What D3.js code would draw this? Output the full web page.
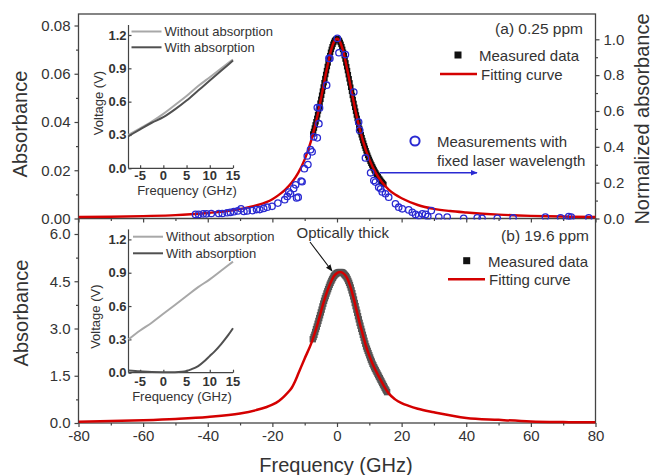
<!DOCTYPE html>
<html>
<head>
<meta charset="utf-8">
<script src="https://cdn.jsdelivr.net/npm/d3@7/dist/d3.min.js"></script>
<style>
  html, body { margin: 0; padding: 0; background: #fff; }
  svg { display: block; font-family: "Liberation Sans", Arial, Helvetica, sans-serif; }
</style>
</head>
<body>
<svg id="chart" width="654" height="475"></svg>
<script>
// ---------- data ----------
// Frequency ticks (GHz) for the shared x axis
const xTicks = [-80, -60, -40, -20, 0, 20, 40, 60, 80];
const xMinor = [-70, -50, -30, -10, 10, 30, 50, 70];
// Left axis ticks, panel (a) and panel (b); right axis ticks (normalized)
const topTicks = [0, 0.02, 0.04, 0.06, 0.08];
const topMinor = [0.01, 0.03, 0.05, 0.07];
const normTicks = [0, 0.2, 0.4, 0.6, 0.8, 1.0];
const normMinor = [0.1, 0.3, 0.5, 0.7, 0.9];
const botTicks = [0, 1.5, 3.0, 4.5, 6.0];
const botMinor = [0.75, 2.25, 3.75, 5.25];
// Inset ticks
const insetVTicks = [0, 0.3, 0.6, 0.9, 1.2];
const insetFTicks = [-5, 0, 5, 10, 15];

// Panel (a) 0.25 ppm: fitting curve
const fitTopFreq = [-80, -70, -60, -50, -40, -35, -30, -25, -20, -18, -16, -14, -12, -10, -8, -6, -4, -3, -2, -1, 0, 1, 2, 3, 4, 6, 8, 10, 12, 14, 16, 18, 20, 25, 30, 35, 40, 50, 60, 70, 80];
const fitTopAbs = [0.0006, 0.0007, 0.0010, 0.0014, 0.0023, 0.0029, 0.0039, 0.0054, 0.0080, 0.0098, 0.0120, 0.0149, 0.0189, 0.0245, 0.0323, 0.0429, 0.0562, 0.0629, 0.0689, 0.0730, 0.0745, 0.0730, 0.0689, 0.0629, 0.0562, 0.0429, 0.0323, 0.0245, 0.0189, 0.0149, 0.0120, 0.0099, 0.0084, 0.0056, 0.0040, 0.0031, 0.0025, 0.0016, 0.0011, 0.0008, 0.0006];
// Panel (a): measured data
const measTopFreq = [-7.5, -7.25, -7, -6.75, -6.5, -6.25, -6, -5.75, -5.5, -5.25, -5, -4.75, -4.5, -4.25, -4, -3.75, -3.5, -3.25, -3, -2.75, -2.5, -2.25, -2, -1.75, -1.5, -1.25, -1, -0.75, -0.5, -0.25,
  0, 0.25, 0.5, 0.75, 1, 1.25, 1.5, 1.75, 2, 2.25, 2.5, 2.75, 3, 3.25, 3.5, 3.75, 4, 4.25, 4.5, 4.75, 5, 5.25, 5.5, 5.75, 6, 6.25, 6.5, 6.75, 7, 7.25, 7.5, 7.75,
  8, 8.25, 8.5, 8.75, 9, 9.25, 9.5, 9.75, 10, 10.25, 10.5, 10.75, 11, 11.25, 11.5, 11.75, 12, 12.25, 12.5, 12.75, 13, 13.25, 13.5, 13.75, 14, 14.25, 14.5];
const measTopAbs = [0.0350, 0.0361, 0.0375, 0.0388, 0.0401, 0.0415, 0.0430, 0.0446, 0.0462, 0.0478, 0.0494, 0.0511, 0.0528, 0.0545, 0.0563, 0.0580, 0.0597, 0.0613, 0.0630, 0.0645, 0.0661, 0.0675, 0.0689, 0.0701, 0.0712, 0.0722, 0.0730, 0.0737, 0.0741, 0.0744,
  0.0745, 0.0744, 0.0741, 0.0737, 0.0730, 0.0722, 0.0712, 0.0701, 0.0689, 0.0675, 0.0661, 0.0645, 0.0629, 0.0613, 0.0596, 0.0579, 0.0562, 0.0544, 0.0527, 0.0510, 0.0493, 0.0477, 0.0461, 0.0445, 0.0429, 0.0415, 0.0400, 0.0386, 0.0373, 0.0359, 0.0347, 0.0335,
  0.0323, 0.0312, 0.0301, 0.0291, 0.0281, 0.0271, 0.0262, 0.0253, 0.0245, 0.0237, 0.0229, 0.0222, 0.0215, 0.0208, 0.0201, 0.0195, 0.0189, 0.0183, 0.0178, 0.0173, 0.0167, 0.0163, 0.0158, 0.0153, 0.0149, 0.0145, 0.0141];
// Panel (a): measurements with fixed laser wavelength (normalized absorbance)
const fixedFreq = [-43.8, -42.8, -41.4, -40.4, -38.9, -36.6, -35.5, -34.0, -33.0, -31.9, -30.7, -29.7, -28.8, -27.8, -26.2, -24.9, -23.9, -22.7, -21.6, -20.1, -18.3, -16.2, -15.4, -14.9, -14.4, -13.4, -12.8, -12.5, -12.0, -11.1, -10.8, -10.1, -9.2, -9.0, -8.2, -7.7, -7.2, -6.1, -6.1, -5.6, -5.4, -3.2, -2.5, -2.2, 0.1, 0.6, 2.6, 5.2, 6.7, 7.0, 8.8, 10.4, 11.4, 11.9, 12.9, 13.5, 14.0, 15.0, 16.0, 18.1, 19.1, 20.2, 22.2, 23.3, 24.3, 25.3, 26.4, 27.4, 28.1, 29.2, 31.5, 34.1, 39.2, 43.4, 44.9, 49.6, 54.5, 64.5, 69.2, 71.7, 72.5, 77.9];
const fixedNorm = [0.023, 0.023, 0.026, 0.026, 0.028, 0.028, 0.028, 0.032, 0.034, 0.038, 0.042, 0.054, 0.039, 0.042, 0.044, 0.050, 0.050, 0.056, 0.063, 0.068, 0.086, 0.105, 0.123, 0.148, 0.138, 0.168, 0.188, 0.115, 0.119, 0.209, 0.205, 0.278, 0.349, 0.301, 0.384, 0.372, 0.456, 0.450, 0.619, 0.529, 0.617, 0.744, 0.893, 0.893, 1.005, 0.925, 0.915, 0.706, 0.538, 0.493, 0.338, 0.255, 0.212, 0.203, 0.174, 0.166, 0.148, 0.138, 0.119, 0.082, 0.063, 0.054, 0.048, 0.035, 0.023, 0.016, 0.026, 0.023, 0.011, 0.044, 0.008, 0.008, 0.001, 0.004, 0.001, 0.001, 0.003, 0.008, 0.004, 0.011, 0.008, 0.004];

// Panel (b) 19.6 ppm: fitting curve
const fitBotFreq = [-80, -70, -60, -50, -40, -30, -25, -22, -20, -18, -16.5, -15, -14, -13, -12, -10, -8, -6, -4, -2, -1, 0, 1, 2, 3, 4, 5, 6, 7, 8, 9, 11, 13.5, 14.5, 16, 18, 20, 22, 25, 30, 40, 50, 60, 70, 80];
const fitBotAbs = [0.04, 0.06, 0.09, 0.13, 0.19, 0.30, 0.41, 0.50, 0.58, 0.70, 0.83, 0.99, 1.12, 1.32, 1.56, 2.05, 2.52, 3.15, 3.88, 4.45, 4.66, 4.76, 4.79, 4.75, 4.62, 4.38, 4.02, 3.60, 3.18, 2.80, 2.43, 1.88, 1.37, 1.18, 0.94, 0.75, 0.63, 0.55, 0.45, 0.34, 0.16, 0.10, 0.05, 0.03, 0.02];
// Panel (b): measured data
const measBotFreq = [-7.5, -7.25, -7, -6.75, -6.5, -6.25, -6, -5.75, -5.5, -5.25, -5, -4.75, -4.5, -4.25, -4, -3.75, -3.5, -3.25, -3, -2.75, -2.5, -2.25, -2, -1.75, -1.5, -1.25, -1, -0.75, -0.5, -0.25,
  0, 0.25, 0.5, 0.75, 1, 1.25, 1.5, 1.75, 2, 2.25, 2.5, 2.75, 3, 3.25, 3.5, 3.75, 4, 4.25, 4.5, 4.75, 5, 5.25, 5.5, 5.75, 6, 6.25, 6.5, 6.75, 7, 7.25, 7.5, 7.75,
  8, 8.25, 8.5, 8.75, 9, 9.25, 9.5, 9.75, 10, 10.25, 10.5, 10.75, 11, 11.25, 11.5, 11.75, 12, 12.25, 12.5, 12.75, 13, 13.25, 13.5, 13.75, 14, 14.25, 14.5, 14.75, 15, 15.25, 15.5];
const measBotAbs = [2.66, 2.73, 2.80, 2.89, 2.98, 3.06, 3.15, 3.24, 3.33, 3.42, 3.51, 3.60, 3.70, 3.79, 3.88, 3.96, 4.03, 4.11, 4.18, 4.25, 4.32, 4.39, 4.45, 4.51, 4.56, 4.61, 4.66, 4.69, 4.72, 4.74,
  4.76, 4.77, 4.78, 4.79, 4.79, 4.79, 4.78, 4.77, 4.75, 4.72, 4.69, 4.66, 4.62, 4.57, 4.51, 4.45, 4.38, 4.30, 4.21, 4.12, 4.02, 3.92, 3.81, 3.71, 3.60, 3.50, 3.39, 3.29, 3.18, 3.09, 2.99, 2.90,
  2.80, 2.71, 2.61, 2.52, 2.43, 2.36, 2.29, 2.22, 2.15, 2.08, 2.01, 1.95, 1.88, 1.83, 1.77, 1.72, 1.67, 1.62, 1.57, 1.52, 1.47, 1.42, 1.37, 1.32, 1.27, 1.22, 1.17, 1.12, 1.07, 1.03, 0.98];

// Insets: detector voltage vs frequency
const insetFreq = [-7.5, -5, -2.5, 0, 2.5, 5, 7.5, 10, 12.5, 15];
const insetTopWithout = [0.30, 0.36, 0.42, 0.49, 0.57, 0.65, 0.74, 0.82, 0.90, 0.98];
const insetTopWith = [0.29, 0.35, 0.41, 0.46, 0.53, 0.61, 0.70, 0.79, 0.88, 0.97];
const insetBotWithout = [0.30, 0.38, 0.45, 0.53, 0.61, 0.69, 0.77, 0.84, 0.92, 1.00];
const insetBotWithFreq = [-7.5, -5, -2.5, 0, 2.5, 4, 5, 6, 7.5, 9, 10, 11, 12.5, 14, 15];
const insetBotWith = [0.02, 0.012, 0.006, 0.005, 0.005, 0.008, 0.015, 0.03, 0.06, 0.11, 0.15, 0.19, 0.26, 0.34, 0.40];

// ---------- layout ----------
const svg = d3.select("#chart");
const L = 78.5, R = 595.5, T = 14, MID = 218.5, B = 423;
const textCol = "#333";
const frameCol = "#444";

const x = d3.scaleLinear().domain([-80, 80]).range([L, R]);
const yTop = d3.scaleLinear().domain([0, 0.08]).range([MID, 25.5]);
const yNorm = d3.scaleLinear().domain([0, 1]).range([MID, 39.3]);
const yBot = d3.scaleLinear().domain([0, 6]).range([B, 234]);

const fmt = (p) => (d) => d.toFixed(p);

function styleAxis(g, size) {
  g.select(".domain").remove();
  g.selectAll(".tick line").attr("stroke", frameCol).attr("stroke-width", 1.2);
  g.selectAll(".tick text").attr("font-size", size).attr("fill", textCol);
}

// Left axis, panel (a)
svg.append("g").attr("transform", `translate(${L},0)`)
  .call(d3.axisLeft(yTop).tickValues(topTicks).tickFormat(fmt(2)).tickSize(4).tickPadding(4))
  .call(g => styleAxis(g, "15px"));
svg.append("g").attr("transform", `translate(${L},0)`)
  .call(d3.axisLeft(yTop).tickValues(topMinor).tickFormat("").tickSize(2.5))
  .call(g => styleAxis(g, "15px"));
// Right axis, panel (a): normalized absorbance
svg.append("g").attr("transform", `translate(${R},0)`)
  .call(d3.axisRight(yNorm).tickValues(normTicks).tickFormat(fmt(1)).tickSize(4).tickPadding(4))
  .call(g => styleAxis(g, "15px"));
svg.append("g").attr("transform", `translate(${R},0)`)
  .call(d3.axisRight(yNorm).tickValues(normMinor).tickFormat("").tickSize(2.5))
  .call(g => styleAxis(g, "15px"));
// Left axis, panel (b)
svg.append("g").attr("transform", `translate(${L},0)`)
  .call(d3.axisLeft(yBot).tickValues(botTicks).tickFormat(fmt(1)).tickSize(4).tickPadding(4))
  .call(g => styleAxis(g, "15px"));
svg.append("g").attr("transform", `translate(${L},0)`)
  .call(d3.axisLeft(yBot).tickValues(botMinor).tickFormat("").tickSize(2.5))
  .call(g => styleAxis(g, "15px"));
// x ticks under panel (a), no labels
svg.append("g").attr("transform", `translate(0,${MID})`)
  .call(d3.axisBottom(x).tickValues(xTicks).tickFormat("").tickSize(4))
  .call(g => styleAxis(g, "15px"));
svg.append("g").attr("transform", `translate(0,${MID})`)
  .call(d3.axisBottom(x).tickValues(xMinor).tickFormat("").tickSize(2.5))
  .call(g => styleAxis(g, "15px"));
// x axis under panel (b)
svg.append("g").attr("transform", `translate(0,${B})`)
  .call(d3.axisBottom(x).tickValues(xTicks).tickFormat(d => String(d)).tickSize(4).tickPadding(3))
  .call(g => styleAxis(g, "15px"));
svg.append("g").attr("transform", `translate(0,${B})`)
  .call(d3.axisBottom(x).tickValues(xMinor).tickFormat("").tickSize(2.5))
  .call(g => styleAxis(g, "15px"));

// Frame and panel divider
svg.append("rect").attr("x", L).attr("y", T).attr("width", R - L).attr("height", B - T)
  .attr("fill", "none").attr("stroke", frameCol).attr("stroke-width", 1.3);
svg.append("line").attr("x1", L).attr("x2", R).attr("y1", MID).attr("y2", MID)
  .attr("stroke", frameCol).attr("stroke-width", 1.3);

// Axis titles
svg.append("text").attr("transform", "translate(27,124) rotate(-90)")
  .attr("text-anchor", "middle").attr("font-size", "20px").attr("fill", textCol).text("Absorbance");
svg.append("text").attr("transform", "translate(28,313) rotate(-90)")
  .attr("text-anchor", "middle").attr("font-size", "20px").attr("fill", textCol).text("Absorbance");
svg.append("text").attr("x", 336).attr("y", 472)
  .attr("text-anchor", "middle").attr("font-size", "20px").attr("fill", textCol).text("Frequency (GHz)");
svg.append("text").attr("transform", "translate(649,119) rotate(-90)")
  .attr("text-anchor", "middle").attr("font-size", "20px").attr("fill", textCol).text("Normalized absorbance");

// ---------- marks ----------
const red = "#d40000";
const blue = "#2a2ad2";
const sq = 5.5;

svg.append("clipPath").attr("id", "clipTop")
  .append("rect").attr("x", L).attr("y", T).attr("width", R - L).attr("height", MID - T + 1);
svg.append("clipPath").attr("id", "clipBot")
  .append("rect").attr("x", L).attr("y", MID).attr("width", R - L).attr("height", B - MID + 1);

// Panel (a)
const gA = svg.append("g").attr("clip-path", "url(#clipTop)");
gA.selectAll("rect.meas").data(measTopFreq).join("rect").attr("class", "meas")
  .attr("x", (d) => x(d) - sq / 2).attr("y", (d, i) => yTop(measTopAbs[i]) - sq / 2)
  .attr("width", sq).attr("height", sq).attr("fill", "#111");
gA.append("path")
  .datum(fitTopFreq.map((f, i) => [f, fitTopAbs[i]]))
  .attr("d", d3.line().x(d => x(d[0])).y(d => yTop(d[1])).curve(d3.curveMonotoneX))
  .attr("fill", "none").attr("stroke", red).attr("stroke-width", 2.4);
gA.selectAll("circle.fixed").data(fixedFreq).join("circle").attr("class", "fixed")
  .attr("cx", (d) => x(d)).attr("cy", (d, i) => yNorm(fixedNorm[i])).attr("r", 3.2)
  .attr("fill", "none").attr("stroke", blue).attr("stroke-width", 1.3);

// Panel (b)
const gB = svg.append("g").attr("clip-path", "url(#clipBot)");
gB.selectAll("rect.meas").data(measBotFreq).join("rect").attr("class", "meas")
  .attr("x", (d) => x(d) - 3.2).attr("y", (d, i) => yBot(measBotAbs[i]) - 3.2)
  .attr("width", 6.4).attr("height", 6.4).attr("fill", "#555");
gB.append("path")
  .datum(fitBotFreq.map((f, i) => [f, fitBotAbs[i]]))
  .attr("d", d3.line().x(d => x(d[0])).y(d => yBot(d[1])).curve(d3.curveMonotoneX))
  .attr("fill", "none").attr("stroke", red).attr("stroke-width", 2.5);

// Arrow heads
const defs = svg.append("defs");
function marker(id, color) {
  defs.append("marker").attr("id", id).attr("viewBox", "0 0 10 10").attr("refX", 9).attr("refY", 5)
    .attr("markerWidth", 7).attr("markerHeight", 7).attr("markerUnits", "userSpaceOnUse")
    .attr("orient", "auto")
    .append("path").attr("d", "M0,1 L10,5 L0,9 Z").attr("fill", color);
}
marker("arrBlue", blue);
marker("arrBlack", "#111");

// ---------- legends and annotations ----------
function label(xp, yp, txt, size, anchor, col) {
  svg.append("text").attr("x", xp).attr("y", yp).attr("font-size", size)
    .attr("text-anchor", anchor || "start").attr("dominant-baseline", "central")
    .attr("fill", col || textCol).text(txt);
}
label(583, 28, "(a) 0.25 ppm", "15.5px", "end");
svg.append("rect").attr("x", 458 - 3.5).attr("y", 55 - 3.5).attr("width", 7).attr("height", 7).attr("fill", "#111");
label(479, 55.5, "Measured data", "15px");
svg.append("line").attr("x1", 440).attr("x2", 477).attr("y1", 74).attr("y2", 74).attr("stroke", red).attr("stroke-width", 2.4);
label(481, 74.5, "Fitting curve", "15px");
svg.append("circle").attr("cx", 415).attr("cy", 141).attr("r", 4.6).attr("fill", "none").attr("stroke", blue).attr("stroke-width", 2);
label(437, 141, "Measurements with", "15px");
label(437, 160.5, "fixed laser wavelength", "15px");
svg.append("line").attr("x1", 380).attr("x2", 477).attr("y1", 172.7).attr("y2", 172.7)
  .attr("stroke", blue).attr("stroke-width", 1.5).attr("marker-end", "url(#arrBlue)");

label(589, 235, "(b) 19.6 ppm", "15.5px", "end");
svg.append("rect").attr("x", 466.7 - 3.5).attr("y", 260.7 - 3.5).attr("width", 7).attr("height", 7).attr("fill", "#111");
label(488, 261, "Measured data", "15px");
svg.append("line").attr("x1", 448).attr("x2", 485).attr("y1", 279.3).attr("y2", 279.3).attr("stroke", red).attr("stroke-width", 2.4);
label(489, 279.5, "Fitting curve", "15px");
label(389, 232.5, "Optically thick", "15px", "end");
svg.append("line").attr("x1", 310).attr("y1", 242).attr("x2", 332).attr("y2", 271)
  .attr("stroke", "#111").attr("stroke-width", 1.1).attr("marker-end", "url(#arrBlack)");

// ---------- insets ----------
function inset(y0, yLabelC, xLabelC, freqTitleX, voltX, voltY, withoutVals, withFreq, withVals, legY1, legY2, legX) {
  const ix = d3.scaleLinear().domain([-7.5, 15]).range([128.5, 233]);
  const iy = d3.scaleLinear().domain([0, 1.2]).range([y0, y0 - 133.3]);
  const g = svg.append("g");
  g.append("line").attr("x1", ix(-7.5)).attr("x2", ix(-7.5)).attr("y1", y0).attr("y2", iy(1.29))
    .attr("stroke", frameCol).attr("stroke-width", 1.2);
  g.append("line").attr("x1", ix(-7.5)).attr("x2", ix(15)).attr("y1", y0).attr("y2", y0)
    .attr("stroke", frameCol).attr("stroke-width", 1.2);
  g.append("g").attr("transform", `translate(${ix(-7.5)},0)`)
    .call(d3.axisRight(iy).tickValues(insetVTicks).tickFormat("").tickSize(3))
    .call(a => styleAxis(a, "13px"));
  g.append("g").attr("transform", `translate(0,${y0})`)
    .call(d3.axisTop(ix).tickValues(insetFTicks).tickFormat("").tickSize(3))
    .call(a => styleAxis(a, "13px"));
  g.selectAll("text.vt").data(insetVTicks).join("text").attr("class", "vt")
    .attr("x", ix(-7.5) - 2).attr("y", d => iy(d)).attr("text-anchor", "end")
    .attr("dominant-baseline", "central").attr("font-size", "13px").attr("font-weight", "bold")
    .attr("fill", textCol).text(d => d.toFixed(1));
  g.selectAll("text.ft").data(insetFTicks).join("text").attr("class", "ft")
    .attr("x", d => ix(d)).attr("y", xLabelC).attr("text-anchor", "middle")
    .attr("dominant-baseline", "central").attr("font-size", "13px").attr("font-weight", "bold")
    .attr("fill", textCol).text(d => String(d));
  g.append("text").attr("x", freqTitleX).attr("y", yLabelC).attr("text-anchor", "middle")
    .attr("dominant-baseline", "central").attr("font-size", "13px").attr("fill", textCol).text("Frequency (GHz)");
  g.append("text").attr("transform", `translate(${voltX},${voltY}) rotate(-90)`).attr("text-anchor", "middle")
    .attr("dominant-baseline", "central").attr("font-size", "13px").attr("fill", textCol).text("Voltage (V)");
  const ln = d3.line().x(d => ix(d[0])).y(d => iy(d[1])).curve(d3.curveMonotoneX);
  g.append("path").datum(insetFreq.map((f, i) => [f, withoutVals[i]])).attr("d", ln)
    .attr("fill", "none").attr("stroke", "#a8a8a8").attr("stroke-width", 2);
  g.append("path").datum(withFreq.map((f, i) => [f, withVals[i]])).attr("d", ln)
    .attr("fill", "none").attr("stroke", "#505050").attr("stroke-width", 2);
  g.append("line").attr("x1", legX).attr("x2", legX + 30).attr("y1", legY1).attr("y2", legY1)
    .attr("stroke", "#a8a8a8").attr("stroke-width", 2);
  g.append("line").attr("x1", legX).attr("x2", legX + 30).attr("y1", legY2).attr("y2", legY2)
    .attr("stroke", "#505050").attr("stroke-width", 2);
  g.append("text").attr("x", legX + 33).attr("y", legY1).attr("dominant-baseline", "central")
    .attr("font-size", "13px").attr("fill", textCol).text("Without absorption");
  g.append("text").attr("x", legX + 33).attr("y", legY2).attr("dominant-baseline", "central")
    .attr("font-size", "13px").attr("fill", textCol).text("With absorption");
}
inset(168.3, 190.7, 175.5, 187, 98, 103, insetTopWithout, insetFreq, insetTopWith, 31.5, 47.3, 131.5);
inset(372.7, 396.7, 381.5, 182, 95, 316.7, insetBotWithout, insetBotWithFreq, insetBotWith, 236.7, 253.3, 133);
</script>
</body>
</html>
